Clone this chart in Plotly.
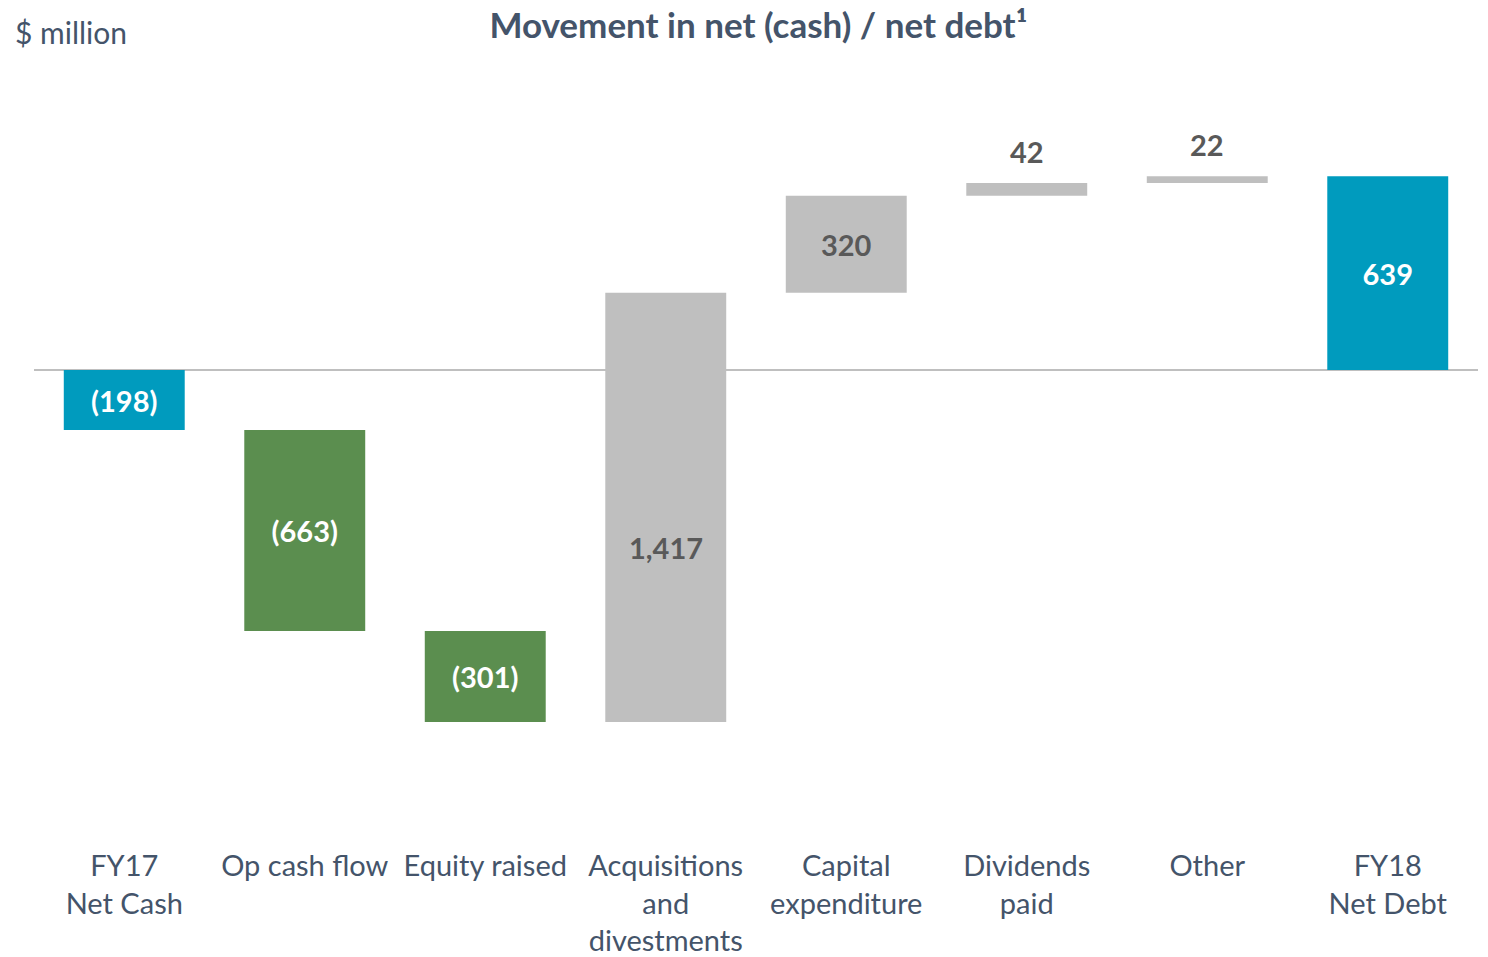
import plotly.graph_objects as go

# data ($ million)
categories = ["FY17<br>Net Cash", "Op cash flow", "Equity raised", "Acquisitions<br>and<br>divestments",
              "Capital<br>expenditure", "Dividends<br>paid", "Other", "FY18<br>Net Debt"]
movements = [-198, -663, -301, 1417, 320, 42, 22, 639]
is_total = [True, False, False, False, False, False, False, True]
bar_colors = ["#009BBE", "#5B8E4F", "#5B8E4F", "#BFBFBF", "#BFBFBF", "#BFBFBF", "#BFBFBF", "#009BBE"]

BLUE_TXT = "#44546A"
GREY_TXT = "#595959"
FONT = "Lato"


def fmt(v):
    return f"({abs(v):,})" if v < 0 else f"{v:,}"


# waterfall bases
bases, running = [], 0
for v, tot in zip(movements, is_total):
    if tot:
        bases.append(0)
        running = v
    else:
        bases.append(running)
        running += v

# small bars get their label above, the tall grey one a little below centre (as in the source)
inside_text = []
notes = []
for cat, v, b, c in zip(categories, movements, bases, bar_colors):
    if abs(v) < 100:
        inside_text.append("")
        notes.append(dict(x=cat, y=b + v, text=f"<b>{fmt(v)}</b>", yshift=32, yanchor="middle"))
    elif v > 1000:
        inside_text.append("")
        notes.append(dict(x=cat, y=b + v / 2, text=f"<b>{fmt(v)}</b>", yshift=-40, yanchor="middle"))
    else:
        inside_text.append(fmt(v))
text_col = ["white" if c != "#BFBFBF" else GREY_TXT for c in bar_colors]

fig = go.Figure()
fig.add_trace(go.Bar(
    x=categories, y=movements, base=bases,
    marker=dict(color=bar_colors, line=dict(width=0)),
    text=inside_text,
    textposition="inside", textangle=0,
    insidetextanchor="middle",
    constraintext="none",
    textfont=dict(family=FONT, size=29, color=text_col, weight="bold"),
    hoverinfo="skip",
))

annotations = [dict(xref="x", yref="y", showarrow=False,
                    font=dict(family=FONT, size=29, color=GREY_TXT), **n) for n in notes]
annotations.append(dict(text="$ million", xref="paper", yref="paper", x=-0.0144, y=1.093,
                        xanchor="left", yanchor="middle", showarrow=False,
                        font=dict(family=FONT, size=30, color=BLUE_TXT)))

# page body has an 8px margin, so the figure is 8px smaller and offset accordingly
fig.update_layout(
    width=1480, height=949,
    paper_bgcolor="white", plot_bgcolor="white",
    margin=dict(l=26, r=10, t=92, b=127),
    bargap=0.33,
    showlegend=False,
    font=dict(family=FONT, color=BLUE_TXT),
    title=dict(text="<b>Movement in net (cash) / net debt¹</b>",
               x=0.507, xanchor="center", y=0.981, yanchor="middle",
               font=dict(family=FONT, size=35, color=BLUE_TXT)),
    xaxis=dict(showgrid=False, showline=False, ticks="", automargin=False,
               tickfont=dict(family=FONT, size=29, color=BLUE_TXT),
               ticklabelstandoff=16),
    yaxis=dict(range=[-1518, 891], showgrid=False, showticklabels=False, automargin=False,
               zeroline=True, zerolinecolor="#BFBFBF", zerolinewidth=2),
    annotations=annotations,
)

fig.write_html("out.html")
